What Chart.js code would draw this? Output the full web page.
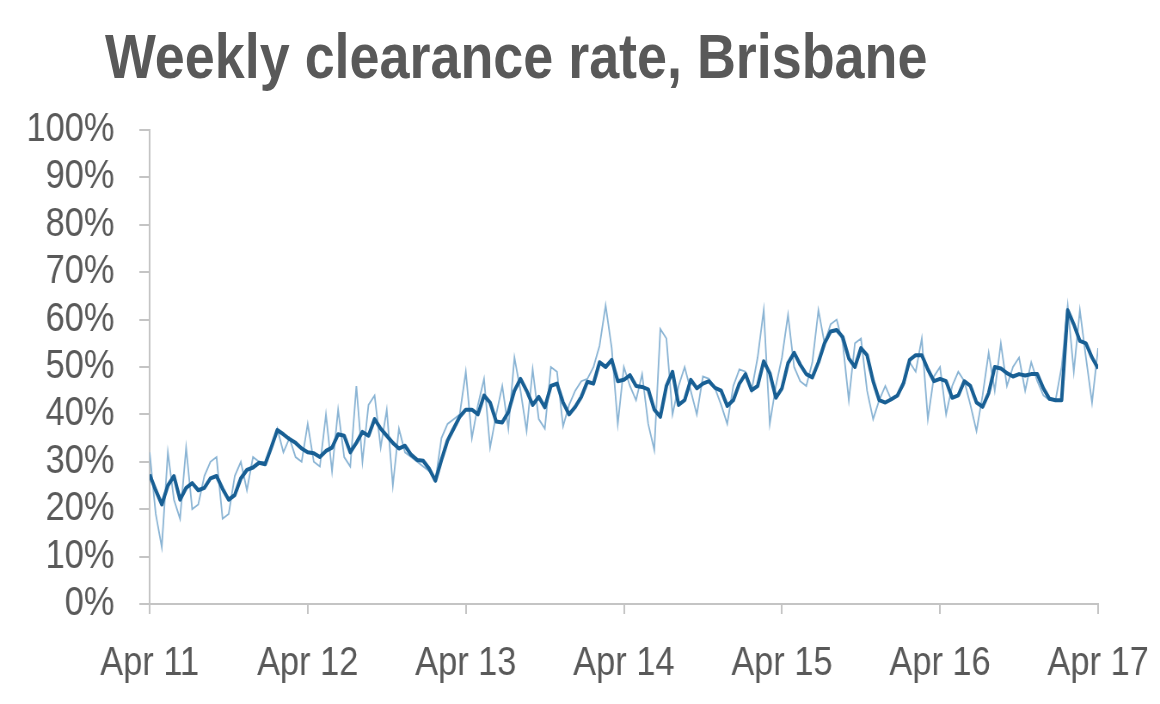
<!DOCTYPE html>
<html lang="en">
<head>
  <meta charset="UTF-8">
  <title>Weekly clearance rate, Brisbane</title>
  <script src="https://cdn.jsdelivr.net/npm/chart.js"></script>
  <style>
    * { margin: 0; padding: 0; box-sizing: border-box; }
    body { background: #fff; width: 1160px; height: 704px; overflow: hidden; }
    .wrap { position: relative; width: 1160px; height: 704px; }
    /* the source picture is squeezed sideways (Arial looks like Arial Narrow),
       so the title and the whole canvas are drawn wide and squeezed back */
    h1 {
      position: absolute;
      left: 105px;
      top: 24px;
      font-family: 'Liberation Sans', Arial, sans-serif;
      font-weight: bold;
      font-size: 63px;
      line-height: 64px;
      color: #595959;
      white-space: nowrap;
      transform: scaleX(0.855);
      transform-origin: 0 0;
      z-index: 2;
    }
    canvas { position: absolute; left: 0; top: 0; }
  </style>
</head>
<body>
  <div class="wrap">
    <h1>Weekly clearance rate, Brisbane</h1>
    <canvas id="chart" width="1349" height="704" style="width:1160px;height:704px"></canvas>
  </div>

  <script>
    // one value every second week, Apr 2011 .. Apr 2017
    const weekStep = 2;
    const weeksPerYear = 52;
    const yearLabels = ['Apr 11', 'Apr 12', 'Apr 13', 'Apr 14', 'Apr 15', 'Apr 16', 'Apr 17'];

    // weekly result (thin line), %
    const weeklyRate = [
      32, 19, 12, 32, 22, 18, 33, 20, 21, 27, 30, 31, 18, 19, 27, 30, 24, 31, 30, 30, 33, 37, 32, 35, 31, 30, 38,
      30, 29, 40, 28, 41, 31, 29, 46, 30, 42, 44, 33, 41, 25, 37, 32, 31, 30, 29, 28, 26, 35, 38, 39, 40, 49,
      35, 42, 47.5, 33, 40, 46, 37, 52, 45, 36.5, 49.5, 39, 37, 50, 49, 37.5, 42, 45, 47, 47.5, 50, 54.5, 63, 54, 38, 50,
      46, 43, 48.5, 38, 32.5, 58, 56, 40, 46, 50, 45, 40, 48, 47.5, 45.5, 42, 38, 46, 49.5, 49, 45, 52, 62, 38, 46, 52,
      61, 50, 47, 46, 51, 62, 55, 59, 60, 55, 43, 55, 56, 45, 39, 43, 46, 43, 44, 46, 51, 49, 56, 39, 48, 50,
      40, 46, 49, 47, 42, 36.5, 44, 53, 45, 55, 46, 50, 52, 45, 51, 47, 44, 43, 43, 50, 63, 49, 62, 52, 42.5, 54
    ];

    // smoothed rate (thick line), %
    const avgRate = [
      27.3, 24, 21, 25, 27, 22, 24.5, 25.5, 24, 24.5, 26.5, 27, 24.3, 22, 23, 26.5, 28.3, 28.8, 29.8, 29.5, 33, 36.7, 35.8, 34.8, 34, 32.8, 32,
      31.8, 31, 32.3, 33, 35.8, 35.5, 32, 34, 36.3, 35.5, 39, 37, 35.5, 34, 32.8, 33.4, 31.5, 30.4, 30.2, 28.5, 26, 30.4, 34.5, 37, 39.5, 41,
      41, 40, 44, 42.5, 38.5, 38.3, 40.5, 45, 47.5, 45, 42, 43.7, 41.5, 46, 46.5, 42.5, 40, 41.6, 43.7, 46.9, 46.5, 51, 50, 51.5, 47, 47.3,
      48.3, 46, 45.8, 45.3, 41, 39.5, 46, 49, 42, 43, 47.3, 45.5, 46.5, 47, 45.6, 45, 41.8, 43, 46.5, 48.5, 45.1, 46, 51.2, 48.7, 43.5, 45.5,
      50.8, 53, 50.5, 48.5, 47.8, 51, 55, 57.5, 57.8, 56.3, 51.8, 50, 54, 52.5, 47, 43, 42.5, 43.2, 44, 46.6, 51.5, 52.5, 52.5, 49.5, 47, 47.5,
      47, 43.5, 44, 47, 46, 42.5, 41.6, 44.5, 50, 49.7, 48.7, 48, 48.5, 48.2, 48.5, 48.5, 45.5, 43.3, 43, 43, 62, 59, 55.5, 55, 52, 49.7
    ];

    const labelFont = { family: "'Liberation Sans', Arial, sans-serif", size: 40 };
    const axisGrey = '#c4c4c4';
    const textGrey = '#595959';

    const toPoints = arr => arr.map((v, i) => ({ x: i * weekStep, y: v }));

    new Chart(document.getElementById('chart'), {
      type: 'line',
      data: {
        datasets: [
          {
            label: 'Smoothed',
            data: toPoints(avgRate),
            borderColor: '#185f94',
            borderWidth: 4,
            pointRadius: 0,
            tension: 0,
            borderJoinStyle: 'round',
            order: 0
          },
          {
            label: 'Weekly',
            data: toPoints(weeklyRate),
            borderColor: '#8ab4d4',
            borderWidth: 1.8,
            pointRadius: 0,
            tension: 0,
            order: 1
          }
        ]
      },
      options: {
        responsive: false,
        animation: false,
        devicePixelRatio: 1,
        layout: { padding: { top: 130, right: 72, left: 0, bottom: 0 } },
        plugins: {
          legend: { display: false },
          tooltip: { enabled: false }
        },
        scales: {
          x: {
            type: 'linear',
            min: 0,
            max: weeksPerYear * (yearLabels.length - 1),
            afterFit: s => {
              s.height = 100;
              // layout padding already leaves room for the end labels
              s.paddingLeft = 0;
              s.paddingRight = 0;
            },
            border: { color: axisGrey, width: 2 },
            grid: { drawOnChartArea: false, drawTicks: true, tickLength: 10, color: axisGrey, lineWidth: 2 },
            ticks: {
              stepSize: weeksPerYear,
              autoSkip: false,
              maxRotation: 0,
              padding: 26,
              color: textGrey,
              font: labelFont,
              callback: v => yearLabels[v / weeksPerYear]
            }
          },
          y: {
            min: 0,
            max: 100,
            afterFit: s => { s.width = 174; },
            border: { color: axisGrey, width: 2 },
            grid: { drawOnChartArea: false, drawTicks: true, tickLength: 12, color: axisGrey, lineWidth: 2 },
            ticks: {
              stepSize: 10,
              autoSkip: false,
              padding: 29,
              color: textGrey,
              font: labelFont,
              callback: v => v + '%'
            }
          }
        }
      }
    });
  </script>
</body>
</html>
